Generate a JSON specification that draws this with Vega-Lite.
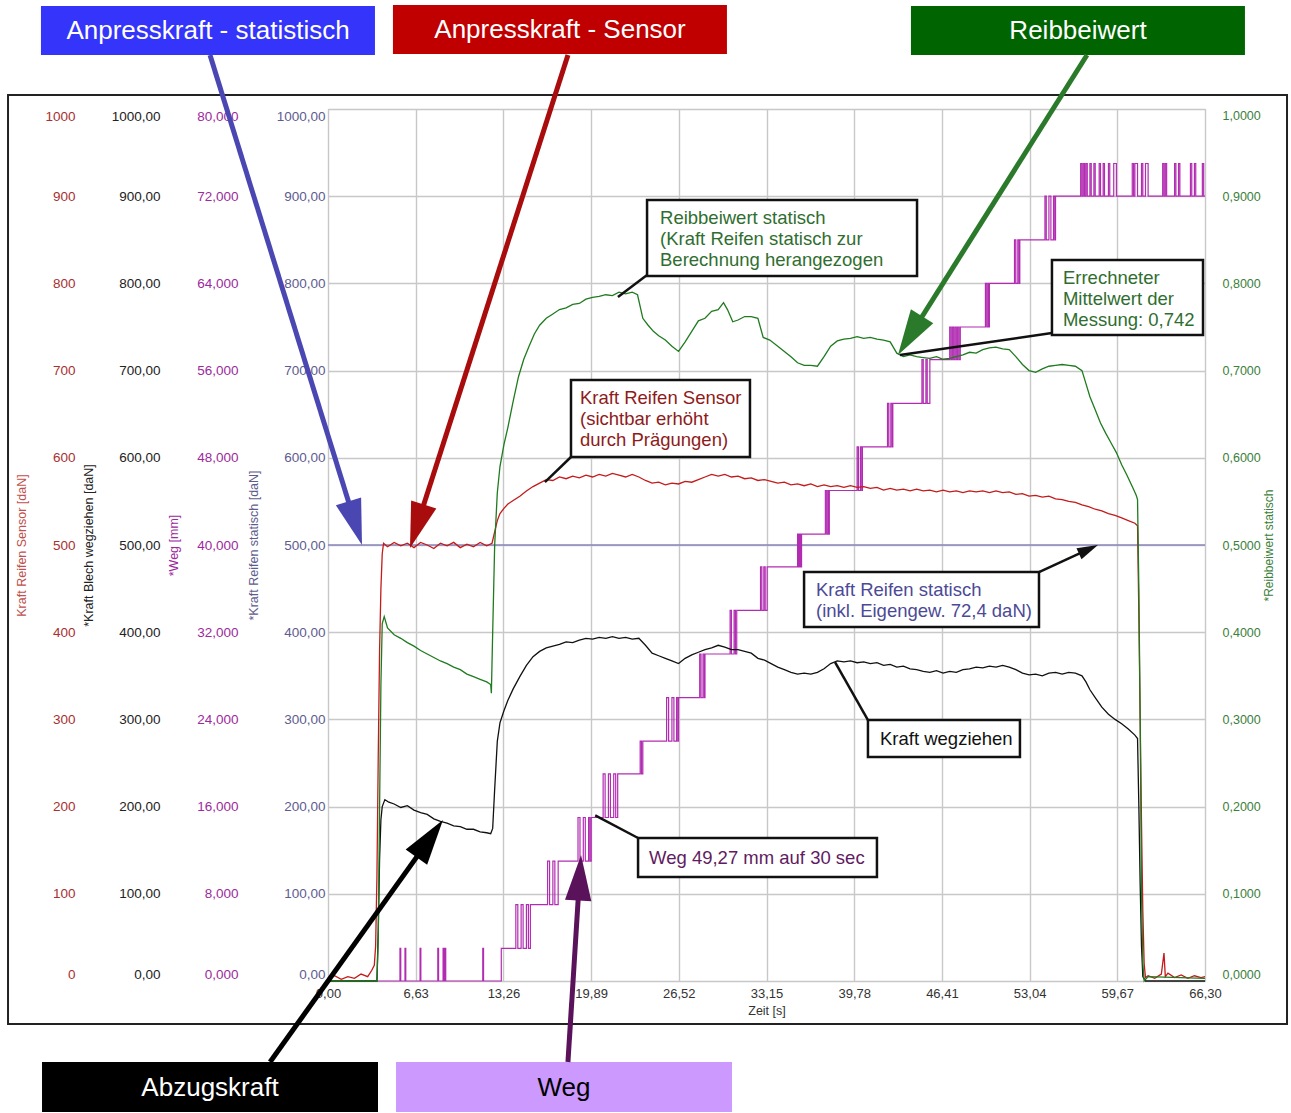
{
"$schema":"https://vega.github.io/schema/vega-lite/v6.json",
"width":877,"height":872,"autosize":"none",
"padding":{"left":328,"top":109,"right":86,"bottom":132},
"background":"#ffffff",
"config":{"font":"Liberation Sans","view":{"stroke":"#b8b8b8","strokeWidth":1},
 "axis":{"domain":false,"ticks":false,"labelFont":"Liberation Sans","titleFont":"Liberation Sans","titleFontWeight":"normal","gridColor":"#c8c8c8","gridWidth":1.4,"labelOverlap":false}},
"datasets":{
"frame":[{"t0":-24.19,"t1":72.5,"v0":1016.1,"v1":-49.3}],
"statisch":[{"t":0,"v":500},{"t":66.3,"v":500}],
"sensor":[{"t":0,"v":3},{"t":0.5,"v":6},{"t":1,"v":2},{"t":1.5,"v":5},{"t":2,"v":3},{"t":2.5,"v":8},{"t":3,"v":5},{"t":3.3,"v":12},{"t":3.5,"v":18},{"t":3.6,"v":40},{"t":3.7,"v":120},{"t":3.8,"v":260},{"t":3.9,"v":380},{"t":4,"v":450},{"t":4.1,"v":490},{"t":4.2,"v":502},{"t":4.5,"v":498},{"t":5,"v":503},{"t":5.5,"v":499},{"t":6,"v":502},{"t":6.5,"v":497},{"t":7,"v":503},{"t":7.5,"v":500},{"t":8,"v":496},{"t":8.5,"v":502},{"t":9,"v":499},{"t":9.5,"v":503},{"t":10,"v":497},{"t":10.5,"v":501},{"t":11,"v":498},{"t":11.5,"v":503},{"t":12,"v":499},{"t":12.4,"v":502},{"t":12.6,"v":515},{"t":12.8,"v":528},{"t":13,"v":536},{"t":13.3,"v":542},{"t":13.6,"v":547},{"t":14,"v":551},{"t":14.5,"v":556},{"t":15,"v":562},{"t":15.5,"v":567},{"t":16,"v":571},{"t":16.5,"v":575},{"t":17,"v":574},{"t":17.5,"v":578},{"t":18,"v":576},{"t":18.5,"v":579},{"t":19,"v":577},{"t":19.5,"v":580},{"t":20,"v":578},{"t":20.5,"v":581},{"t":21,"v":579},{"t":21.5,"v":582},{"t":22,"v":580},{"t":22.5,"v":578},{"t":23,"v":581},{"t":23.5,"v":578},{"t":24,"v":574},{"t":24.5,"v":571},{"t":25,"v":572},{"t":25.5,"v":569},{"t":26,"v":571},{"t":26.5,"v":570},{"t":27,"v":573},{"t":27.5,"v":572},{"t":28,"v":575},{"t":28.5,"v":578},{"t":29,"v":581},{"t":29.5,"v":579},{"t":30,"v":581},{"t":30.5,"v":578},{"t":31,"v":579},{"t":31.5,"v":576},{"t":32,"v":577},{"t":32.5,"v":574},{"t":33,"v":575},{"t":33.5,"v":573},{"t":34,"v":571},{"t":34.5,"v":572},{"t":35,"v":569},{"t":35.5,"v":570},{"t":36,"v":568},{"t":36.5,"v":570},{"t":37,"v":567},{"t":37.5,"v":569},{"t":38,"v":567},{"t":38.5,"v":568},{"t":39,"v":566},{"t":39.5,"v":568},{"t":40,"v":566},{"t":40.5,"v":567},{"t":41,"v":565},{"t":41.5,"v":566},{"t":42,"v":563},{"t":42.5,"v":565},{"t":43,"v":563},{"t":43.5,"v":564},{"t":44,"v":562},{"t":44.5,"v":564},{"t":45,"v":562},{"t":45.5,"v":563},{"t":46,"v":561},{"t":46.5,"v":563},{"t":47,"v":561},{"t":47.5,"v":562},{"t":48,"v":560},{"t":48.5,"v":562},{"t":49,"v":561},{"t":49.5,"v":562},{"t":50,"v":560},{"t":50.5,"v":562},{"t":51,"v":560},{"t":51.5,"v":561},{"t":52,"v":558},{"t":52.5,"v":559},{"t":53,"v":556},{"t":53.5,"v":557},{"t":54,"v":555},{"t":54.5,"v":556},{"t":55,"v":553},{"t":55.5,"v":552},{"t":56,"v":550},{"t":56.5,"v":549},{"t":57,"v":546},{"t":57.5,"v":544},{"t":58,"v":541},{"t":58.5,"v":539},{"t":59,"v":536},{"t":59.5,"v":534},{"t":60,"v":531},{"t":60.5,"v":528},{"t":61,"v":525},{"t":61.2,"v":522},{"t":61.3,"v":420},{"t":61.4,"v":300},{"t":61.5,"v":180},{"t":61.6,"v":80},{"t":61.7,"v":20},{"t":61.8,"v":4},{"t":62,"v":6},{"t":62.5,"v":3},{"t":63,"v":8},{"t":63.2,"v":32},{"t":63.3,"v":5},{"t":63.5,"v":9},{"t":64,"v":4},{"t":64.5,"v":7},{"t":65,"v":3},{"t":65.5,"v":6},{"t":66,"v":4},{"t":66.3,"v":5}],
"abzug":[{"t":0,"v":0},{"t":3.7,"v":0},{"t":3.8,"v":60},{"t":3.9,"v":140},{"t":4,"v":185},{"t":4.1,"v":200},{"t":4.3,"v":208},{"t":4.6,"v":205},{"t":5,"v":203},{"t":5.5,"v":199},{"t":6,"v":201},{"t":6.5,"v":196},{"t":7,"v":193},{"t":7.5,"v":191},{"t":8,"v":186},{"t":8.5,"v":183},{"t":9,"v":181},{"t":9.5,"v":178},{"t":10,"v":177},{"t":10.5,"v":174},{"t":11,"v":174},{"t":11.5,"v":171},{"t":12,"v":170},{"t":12.3,"v":169},{"t":12.45,"v":175},{"t":12.6,"v":220},{"t":12.8,"v":275},{"t":13,"v":296},{"t":13.3,"v":310},{"t":13.6,"v":322},{"t":14,"v":335},{"t":14.5,"v":349},{"t":15,"v":362},{"t":15.5,"v":372},{"t":16,"v":378},{"t":16.5,"v":382},{"t":17,"v":384},{"t":17.5,"v":386},{"t":18,"v":389},{"t":18.5,"v":388},{"t":19,"v":391},{"t":19.5,"v":393},{"t":20,"v":392},{"t":20.5,"v":394},{"t":21,"v":393},{"t":21.5,"v":395},{"t":22,"v":393},{"t":22.5,"v":394},{"t":23,"v":392},{"t":23.5,"v":393},{"t":24,"v":385},{"t":24.5,"v":376},{"t":25,"v":373},{"t":25.5,"v":370},{"t":26,"v":367},{"t":26.5,"v":364},{"t":27,"v":370},{"t":27.5,"v":374},{"t":28,"v":377},{"t":28.5,"v":380},{"t":29,"v":382},{"t":29.5,"v":385},{"t":30,"v":383},{"t":30.5,"v":380},{"t":31,"v":380},{"t":31.5,"v":378},{"t":32,"v":376},{"t":32.5,"v":370},{"t":33,"v":368},{"t":33.5,"v":364},{"t":34,"v":360},{"t":34.5,"v":357},{"t":35,"v":354},{"t":35.5,"v":352},{"t":36,"v":353},{"t":36.5,"v":352},{"t":37,"v":354},{"t":37.5,"v":358},{"t":38,"v":364},{"t":38.5,"v":367},{"t":39,"v":366},{"t":39.5,"v":367},{"t":40,"v":365},{"t":40.5,"v":366},{"t":41,"v":364},{"t":41.5,"v":365},{"t":42,"v":362},{"t":42.5,"v":363},{"t":43,"v":360},{"t":43.5,"v":361},{"t":44,"v":358},{"t":44.5,"v":357},{"t":45,"v":355},{"t":45.5,"v":354},{"t":46,"v":356},{"t":46.5,"v":353},{"t":47,"v":355},{"t":47.5,"v":354},{"t":48,"v":357},{"t":48.5,"v":358},{"t":49,"v":360},{"t":49.5,"v":359},{"t":50,"v":361},{"t":50.5,"v":360},{"t":51,"v":362},{"t":51.5,"v":360},{"t":52,"v":357},{"t":52.5,"v":353},{"t":53,"v":351},{"t":53.5,"v":352},{"t":54,"v":350},{"t":54.5,"v":353},{"t":55,"v":354},{"t":55.5,"v":352},{"t":56,"v":354},{"t":56.5,"v":353},{"t":57,"v":350},{"t":57.3,"v":343},{"t":57.6,"v":334},{"t":58,"v":325},{"t":58.5,"v":314},{"t":59,"v":306},{"t":59.5,"v":300},{"t":60,"v":295},{"t":60.5,"v":289},{"t":61,"v":282},{"t":61.2,"v":278},{"t":61.3,"v":200},{"t":61.4,"v":110},{"t":61.5,"v":40},{"t":61.6,"v":5},{"t":61.8,"v":0},{"t":66.3,"v":0}],
"reib":[{"t":0,"v":0},{"t":3.7,"v":0},{"t":3.8,"v":0.05},{"t":3.9,"v":0.2},{"t":4,"v":0.34},{"t":4.1,"v":0.41},{"t":4.25,"v":0.418},{"t":4.5,"v":0.405},{"t":5,"v":0.397},{"t":5.5,"v":0.393},{"t":6,"v":0.388},{"t":6.5,"v":0.384},{"t":7,"v":0.379},{"t":7.5,"v":0.375},{"t":8,"v":0.371},{"t":8.5,"v":0.367},{"t":9,"v":0.364},{"t":9.5,"v":0.36},{"t":10,"v":0.357},{"t":10.5,"v":0.352},{"t":11,"v":0.349},{"t":11.5,"v":0.346},{"t":12,"v":0.343},{"t":12.3,"v":0.34},{"t":12.35,"v":0.33},{"t":12.45,"v":0.4},{"t":12.6,"v":0.5},{"t":12.8,"v":0.56},{"t":13,"v":0.59},{"t":13.3,"v":0.615},{"t":13.6,"v":0.635},{"t":14,"v":0.665},{"t":14.4,"v":0.693},{"t":14.8,"v":0.713},{"t":15.2,"v":0.728},{"t":15.6,"v":0.742},{"t":16,"v":0.752},{"t":16.5,"v":0.76},{"t":17,"v":0.765},{"t":17.5,"v":0.77},{"t":18,"v":0.772},{"t":18.5,"v":0.776},{"t":19,"v":0.777},{"t":19.5,"v":0.782},{"t":20,"v":0.784},{"t":20.5,"v":0.785},{"t":21,"v":0.787},{"t":21.5,"v":0.786},{"t":22,"v":0.79},{"t":22.5,"v":0.788},{"t":23,"v":0.79},{"t":23.4,"v":0.787},{"t":23.8,"v":0.76},{"t":24.2,"v":0.752},{"t":24.6,"v":0.745},{"t":25,"v":0.74},{"t":25.5,"v":0.735},{"t":26,"v":0.728},{"t":26.5,"v":0.722},{"t":27,"v":0.733},{"t":27.5,"v":0.745},{"t":28,"v":0.757},{"t":28.5,"v":0.76},{"t":29,"v":0.768},{"t":29.5,"v":0.77},{"t":29.9,"v":0.778},{"t":30.2,"v":0.77},{"t":30.6,"v":0.756},{"t":31,"v":0.758},{"t":31.5,"v":0.762},{"t":32,"v":0.762},{"t":32.5,"v":0.76},{"t":32.9,"v":0.738},{"t":33.4,"v":0.735},{"t":34,"v":0.728},{"t":34.5,"v":0.722},{"t":35,"v":0.716},{"t":35.5,"v":0.709},{"t":36,"v":0.706},{"t":36.5,"v":0.706},{"t":37,"v":0.705},{"t":37.5,"v":0.716},{"t":38,"v":0.728},{"t":38.5,"v":0.734},{"t":39,"v":0.736},{"t":39.5,"v":0.737},{"t":40,"v":0.739},{"t":40.5,"v":0.737},{"t":41,"v":0.738},{"t":41.5,"v":0.736},{"t":42,"v":0.735},{"t":42.5,"v":0.733},{"t":43,"v":0.72},{"t":43.5,"v":0.716},{"t":44,"v":0.718},{"t":44.5,"v":0.716},{"t":45,"v":0.715},{"t":45.5,"v":0.714},{"t":46,"v":0.716},{"t":46.5,"v":0.713},{"t":47,"v":0.714},{"t":47.5,"v":0.716},{"t":48,"v":0.718},{"t":48.5,"v":0.721},{"t":49,"v":0.72},{"t":49.5,"v":0.724},{"t":50,"v":0.726},{"t":50.5,"v":0.727},{"t":51,"v":0.725},{"t":51.5,"v":0.724},{"t":52,"v":0.716},{"t":52.5,"v":0.707},{"t":53,"v":0.7},{"t":53.5,"v":0.698},{"t":54,"v":0.702},{"t":54.5,"v":0.705},{"t":55,"v":0.706},{"t":55.5,"v":0.707},{"t":56,"v":0.706},{"t":56.5,"v":0.705},{"t":57,"v":0.7},{"t":57.3,"v":0.685},{"t":57.6,"v":0.67},{"t":58,"v":0.655},{"t":58.4,"v":0.64},{"t":58.8,"v":0.628},{"t":59.2,"v":0.617},{"t":59.6,"v":0.606},{"t":60,"v":0.592},{"t":60.4,"v":0.58},{"t":60.8,"v":0.567},{"t":61.1,"v":0.557},{"t":61.2,"v":0.552},{"t":61.3,"v":0.45},{"t":61.4,"v":0.3},{"t":61.5,"v":0.1},{"t":61.6,"v":0.02},{"t":61.7,"v":0},{"t":62,"v":0.005},{"t":66.3,"v":0.003}],
"weg":[{"t":0,"v":0},{"t":5.44,"v":3},{"t":5.5,"v":0},{"t":5.82,"v":3},{"t":5.88,"v":0},{"t":6.96,"v":3},{"t":7.02,"v":0},{"t":8.3,"v":3},{"t":8.36,"v":0},{"t":8.7,"v":3},{"t":8.78,"v":0},{"t":8.85,"v":3},{"t":8.9,"v":0},{"t":11.7,"v":3},{"t":11.76,"v":0},{"t":13.1,"v":3},{"t":14.2,"v":7},{"t":14.35,"v":3},{"t":14.6,"v":7},{"t":14.75,"v":3},{"t":15,"v":7},{"t":15.15,"v":3},{"t":15.3,"v":7},{"t":16.6,"v":11},{"t":16.75,"v":7},{"t":17,"v":11},{"t":17.15,"v":7},{"t":17.4,"v":11},{"t":18.9,"v":15},{"t":19.05,"v":11},{"t":19.3,"v":15},{"t":19.45,"v":11},{"t":19.7,"v":15},{"t":19.8,"v":11},{"t":19.9,"v":15},{"t":20.8,"v":19},{"t":20.95,"v":15},{"t":21.2,"v":19},{"t":21.35,"v":15},{"t":21.6,"v":19},{"t":21.75,"v":15},{"t":21.9,"v":19},{"t":23.6,"v":22},{"t":23.7,"v":19},{"t":23.8,"v":22},{"t":25.6,"v":26},{"t":25.75,"v":22},{"t":26,"v":26},{"t":26.15,"v":22},{"t":26.35,"v":26},{"t":26.45,"v":22},{"t":26.5,"v":26},{"t":28.1,"v":30},{"t":28.2,"v":26},{"t":28.35,"v":30},{"t":28.45,"v":26},{"t":28.5,"v":30},{"t":30.4,"v":34},{"t":30.5,"v":30},{"t":30.7,"v":34},{"t":30.8,"v":30},{"t":30.9,"v":34},{"t":32.7,"v":38},{"t":32.8,"v":34},{"t":32.95,"v":38},{"t":33.05,"v":34},{"t":33.2,"v":38},{"t":35.5,"v":41},{"t":35.58,"v":38},{"t":35.65,"v":41},{"t":35.72,"v":38},{"t":35.8,"v":41},{"t":37.6,"v":45},{"t":37.7,"v":41},{"t":37.8,"v":45},{"t":37.85,"v":41},{"t":37.9,"v":45},{"t":40,"v":49},{"t":40.1,"v":45},{"t":40.25,"v":49},{"t":40.35,"v":45},{"t":40.4,"v":49},{"t":42.3,"v":53},{"t":42.4,"v":49},{"t":42.55,"v":53},{"t":42.65,"v":49},{"t":42.7,"v":53},{"t":44.9,"v":57},{"t":45,"v":53},{"t":45.2,"v":57},{"t":45.3,"v":53},{"t":45.5,"v":57},{"t":47,"v":60},{"t":47.1,"v":57},{"t":47.2,"v":60},{"t":47.3,"v":57},{"t":47.4,"v":60},{"t":47.5,"v":57},{"t":47.6,"v":60},{"t":47.7,"v":57},{"t":47.8,"v":60},{"t":49.7,"v":64},{"t":49.8,"v":60},{"t":49.9,"v":64},{"t":49.95,"v":60},{"t":50,"v":64},{"t":51.9,"v":68},{"t":52,"v":64},{"t":52.15,"v":68},{"t":52.25,"v":64},{"t":52.3,"v":68},{"t":54.2,"v":72},{"t":54.3,"v":68},{"t":54.5,"v":72},{"t":54.65,"v":68},{"t":54.85,"v":72},{"t":54.95,"v":68},{"t":55,"v":72},{"t":56.9,"v":75},{"t":57,"v":72},{"t":57.1,"v":75},{"t":57.2,"v":72},{"t":57.3,"v":75},{"t":57.4,"v":72},{"t":57.6,"v":75},{"t":57.7,"v":72},{"t":57.9,"v":75},{"t":58,"v":72},{"t":58.3,"v":75},{"t":58.4,"v":72},{"t":58.6,"v":75},{"t":58.7,"v":72},{"t":59,"v":75},{"t":59.1,"v":72},{"t":59.4,"v":75},{"t":59.6,"v":72},{"t":60.8,"v":75},{"t":60.9,"v":72},{"t":61,"v":75},{"t":61.2,"v":72},{"t":61.5,"v":75},{"t":61.6,"v":72},{"t":61.8,"v":75},{"t":62,"v":72},{"t":63.1,"v":75},{"t":63.2,"v":72},{"t":63.3,"v":75},{"t":63.4,"v":72},{"t":64,"v":75},{"t":64.1,"v":72},{"t":64.3,"v":75},{"t":64.4,"v":72},{"t":65.2,"v":75},{"t":65.3,"v":72},{"t":65.5,"v":75},{"t":65.6,"v":72},{"t":66.1,"v":75},{"t":66.2,"v":72},{"t":66.3,"v":72}],
"callouts":[{"key":"statisch","t0":-21.7,"t1":3.55,"v0":1118.1,"v1":1061.9,"tc":-9.07,"vc":1089.4,"label":"Anpresskraft - statistisch"},{"key":"sensor","t0":4.91,"t1":30.16,"v0":1119.3,"v1":1063.1,"tc":17.54,"vc":1090.6,"label":"Anpresskraft - Sensor"},{"key":"reib","t0":44.07,"t1":69.32,"v0":1118.1,"v1":1061.9,"tc":56.7,"vc":1089.4,"label":"Reibbeiwert"},{"key":"abzug","t0":-21.62,"t1":3.78,"v0":-92.9,"v1":-150.2,"tc":-8.92,"vc":-122.7,"label":"Abzugskraft"},{"key":"weg","t0":5.14,"t1":30.54,"v0":-92.9,"v1":-150.2,"tc":17.84,"vc":-122.7,"label":"Weg"}],
"arrows":[{"key":"statisch","t0":-8.92,"v0":1061.9,"t1":2.12,"v1":521.9,"tt":2.57,"vt":500,"angle":162.8},{"key":"sensor","t0":18.14,"v0":1061.9,"t1":6.65,"v1":518.5,"tt":6.2,"vt":496.6,"angle":197.5},{"key":"reib","t0":57.38,"v0":1061.9,"t1":43.89,"v1":737.4,"tt":43.09,"vt":717.9,"angle":211.9},{"key":"abzug","t0":-4.38,"v0":-92.9,"t1":7.82,"v1":165.9,"tt":8.69,"vt":184.6,"angle":35.6},{"key":"weg","t0":18.14,"v0":-92.9,"t1":19.03,"v1":121.6,"tt":19.13,"vt":144.5,"angle":3.6}],
"notes":[{"key":"reib","t0":24.12,"t1":44.53,"v0":895.6,"v1":808.5,"tx":25.1,"vy":875.0,"label":"Reibbeiwert statisch\n(Kraft Reifen statisch zur\nBerechnung herangezogen"},{"key":"sensor","t0":18.37,"t1":31.9,"v0":689.2,"v1":600.9,"tx":19.05,"vy":668.6,"label":"Kraft Reifen Sensor\n(sichtbar erhöht\ndurch Prägungen)"},{"key":"reib","t0":54.73,"t1":66.15,"v0":826.8,"v1":740.8,"tx":55.56,"vy":806.2,"label":"Errechneter\nMittelwert der\nMessung: 0,742"},{"key":"statisch","t0":35.99,"t1":53.75,"v0":469,"v1":406,"tx":36.89,"vy":448.4,"label":"Kraft Reifen statisch\n(inkl. Eigengew. 72,4 daN)"},{"key":"abzug","t0":40.82,"t1":52.31,"v0":299.3,"v1":256.9,"tx":41.73,"vy":277.5,"label":"Kraft wegziehen"},{"key":"weg","t0":23.44,"t1":41.5,"v0":164,"v1":119.3,"tx":24.27,"vy":141.1,"label":"Weg 49,27 mm auf 30 sec"}],
"leaders":[{"t0":24.12,"v0":809.6,"t1":21.92,"v1":784.4},{"t0":18.37,"v0":600.9,"t1":16.4,"v1":572.2},{"t0":54.73,"v0":743.1,"t1":43.24,"v1":717.9},{"t0":40.82,"v0":299.3,"t1":38.33,"v1":365.8},{"t0":23.44,"v0":164,"t1":20.2,"v1":190},{"t0":53.75,"v0":469,"t1":57.52,"v1":495.2}],
"pointer":[{"tt":58.21,"vt":500,"angle":65.4}]
},
"resolve":{"scale":{"y":"independent","color":"independent","fill":"independent","stroke":"independent"}},
"layer":[
{"data":{"name":"frame"},"mark":{"type":"rect","filled":false,"stroke":"#222222","strokeWidth":2},
 "encoding":{"x":{"field":"t0","type":"quantitative","title":"Zeit [s]","scale":{"domain":[0,66.3],"nice":false,"zero":false}},"x2":{"field":"t1"},
  "y":{"field":"v0","type":"quantitative","scale":{"domain":[0,1000],"nice":false,"zero":false},"axis":null},"y2":{"field":"v1"}}},
{"data":{"name":"statisch"},"mark":{"type":"line","color":"#8a86bd","strokeWidth":1.6},
 "encoding":{"x":{"field":"t","type":"quantitative","title":"Zeit [s]","scale":{"domain":[0,66.3],"nice":false,"zero":false},
   "axis":{"values":[0,6.63,13.26,19.89,26.52,33.15,39.78,46.41,53.04,59.67,66.3],"labelExpr":"replace(format(datum.value, '.2f'), '.', ',')","grid":true,"labelFlush":false,"labelPadding":6,"labelFontSize":13,"labelColor":"#333333","titleFontSize":12.5,"titleColor":"#333333","titlePadding":4}},
  "y":{"field":"v","type":"quantitative","scale":{"domain":[0,1000],"nice":false,"zero":false},
   "axis":{"orient":"left","offset":0,"values":[0,100,200,300,400,500,600,700,800,900,1000],"labelExpr":"replace(format(datum.value, '.2f'), '.', ',')","grid":true,"labelFlush":true,"labelPadding":3,"labelFontSize":13.5,"labelColor":"#5e5c8e","title":"*Kraft Reifen statisch [daN]","titleColor":"#5e5c8e","titleFontSize":12.5,"titlePadding":16}}}},
{"data":{"name":"weg"},"mark":{"type":"line","color":"#b22cb2","strokeWidth":1.2,"interpolate":"step-after"},
 "encoding":{"x":{"field":"t","type":"quantitative","title":"Zeit [s]","scale":{"domain":[0,66.3],"nice":false,"zero":false}},
  "y":{"field":"v","type":"quantitative","scale":{"domain":[0,80],"nice":false,"zero":false},
   "axis":{"orient":"left","offset":87,"values":[0,8,16,24,32,40,48,56,64,72,80],"labelExpr":"replace(format(datum.value, '.3f'), '.', ',')","grid":false,"labelFlush":true,"labelPadding":3,"labelFontSize":13.5,"labelColor":"#9c2a9c","title":"*Weg [mm]","titleColor":"#9c2a9c","titleFontSize":12.5,"titlePadding":16}}}},
{"data":{"name":"abzug"},"mark":{"type":"line","color":"#111111","strokeWidth":1.3},
 "encoding":{"x":{"field":"t","type":"quantitative","title":"Zeit [s]","scale":{"domain":[0,66.3],"nice":false,"zero":false}},
  "y":{"field":"v","type":"quantitative","scale":{"domain":[0,1000],"nice":false,"zero":false},
   "axis":{"orient":"left","offset":165,"values":[0,100,200,300,400,500,600,700,800,900,1000],"labelExpr":"replace(format(datum.value, '.2f'), '.', ',')","grid":false,"labelFlush":true,"labelPadding":3,"labelFontSize":13.5,"labelColor":"#222222","title":"*Kraft Blech wegziehen [daN]","titleColor":"#222222","titleFontSize":12.5,"titlePadding":16}}}},
{"data":{"name":"sensor"},"mark":{"type":"line","color":"#c41a1a","strokeWidth":1.3},
 "encoding":{"x":{"field":"t","type":"quantitative","title":"Zeit [s]","scale":{"domain":[0,66.3],"nice":false,"zero":false}},
  "y":{"field":"v","type":"quantitative","scale":{"domain":[0,1000],"nice":false,"zero":false},
   "axis":{"orient":"left","offset":250,"values":[0,100,200,300,400,500,600,700,800,900,1000],"format":"d","grid":false,"labelFlush":true,"labelPadding":3,"labelFontSize":13.5,"labelColor":"#a83030","title":"Kraft Reifen Sensor [daN]","titleColor":"#c0504d","titleFontSize":12.5,"titlePadding":16}}}},
{"data":{"name":"reib"},"mark":{"type":"line","color":"#1f7b1f","strokeWidth":1.3},
 "encoding":{"x":{"field":"t","type":"quantitative","title":"Zeit [s]","scale":{"domain":[0,66.3],"nice":false,"zero":false}},
  "y":{"field":"v","type":"quantitative","scale":{"domain":[0,1],"nice":false,"zero":false},
   "axis":{"orient":"right","offset":0,"values":[0,0.1,0.2,0.3,0.4,0.5,0.6,0.7,0.8,0.9,1],"labelExpr":"replace(format(datum.value, '.4f'), '.', ',')","grid":false,"labelFlush":true,"labelPadding":17,"labelFontSize":12.5,"labelColor":"#3a803a","title":"*Reibbeiwert statisch","titleAngle":270,"titleBaseline":"top","titleColor":"#3a803a","titleFontSize":12,"titlePadding":3}}}},
{"data":{"name":"notes"},"mark":{"type":"rect","fill":"#ffffff","stroke":"#111111","strokeWidth":2.5},
 "encoding":{"x":{"field":"t0","type":"quantitative","title":"Zeit [s]","scale":{"domain":[0,66.3],"nice":false,"zero":false}},"x2":{"field":"t1"},
  "y":{"field":"v0","type":"quantitative","scale":{"domain":[0,1000],"nice":false,"zero":false},"axis":null},"y2":{"field":"v1"}}},
{"data":{"name":"notes"},"mark":{"type":"text","align":"left","baseline":"middle","fontSize":18.5,"lineHeight":21,"lineBreak":"\n","font":"Liberation Sans"},
 "encoding":{"x":{"field":"tx","type":"quantitative","title":"Zeit [s]","scale":{"domain":[0,66.3],"nice":false,"zero":false}},
  "y":{"field":"vy","type":"quantitative","scale":{"domain":[0,1000],"nice":false,"zero":false},"axis":null},
  "text":{"field":"label"},
  "color":{"field":"key","type":"nominal","legend":null,"scale":{"domain":["reib","sensor","statisch","abzug","weg"],"range":["#2f6e2f","#8e1b1b","#4c4a96","#111111","#611b61"]}}}},
{"data":{"name":"leaders"},"mark":{"type":"rule","color":"#111111","strokeWidth":2.5},
 "encoding":{"x":{"field":"t0","type":"quantitative","title":"Zeit [s]","scale":{"domain":[0,66.3],"nice":false,"zero":false}},"x2":{"field":"t1"},
  "y":{"field":"v0","type":"quantitative","scale":{"domain":[0,1000],"nice":false,"zero":false},"axis":null},"y2":{"field":"v1"}}},
{"data":{"name":"pointer"},"mark":{"type":"point","shape":"M0,0L0.55,1.9L-0.55,1.9Z","size":484,"filled":true,"opacity":1,"color":"#111111"},
 "encoding":{"x":{"field":"tt","type":"quantitative","title":"Zeit [s]","scale":{"domain":[0,66.3],"nice":false,"zero":false}},
  "y":{"field":"vt","type":"quantitative","scale":{"domain":[0,1000],"nice":false,"zero":false},"axis":null},
  "angle":{"field":"angle","type":"quantitative","scale":null}}},
{"data":{"name":"callouts"},"mark":{"type":"rect"},
 "encoding":{"x":{"field":"t0","type":"quantitative","title":"Zeit [s]","scale":{"domain":[0,66.3],"nice":false,"zero":false}},"x2":{"field":"t1"},
  "y":{"field":"v0","type":"quantitative","scale":{"domain":[0,1000],"nice":false,"zero":false},"axis":null},"y2":{"field":"v1"},
  "fill":{"field":"key","type":"nominal","legend":null,"scale":{"domain":["statisch","sensor","reib","abzug","weg"],"range":["#3434fb","#c00000","#006400","#000000","#cc99ff"]}}}},
{"data":{"name":"callouts"},"mark":{"type":"text","align":"center","baseline":"middle","fontSize":26,"font":"Liberation Sans"},
 "encoding":{"x":{"field":"tc","type":"quantitative","title":"Zeit [s]","scale":{"domain":[0,66.3],"nice":false,"zero":false}},
  "y":{"field":"vc","type":"quantitative","scale":{"domain":[0,1000],"nice":false,"zero":false},"axis":null},
  "text":{"field":"label"},
  "color":{"field":"key","type":"nominal","legend":null,"scale":{"domain":["statisch","sensor","reib","abzug","weg"],"range":["#ffffff","#ffffff","#ffffff","#ffffff","#000000"]}}}},
{"data":{"name":"arrows"},"mark":{"type":"rule","strokeWidth":5},
 "encoding":{"x":{"field":"t0","type":"quantitative","title":"Zeit [s]","scale":{"domain":[0,66.3],"nice":false,"zero":false}},"x2":{"field":"t1"},
  "y":{"field":"v0","type":"quantitative","scale":{"domain":[0,1000],"nice":false,"zero":false},"axis":null},"y2":{"field":"v1"},
  "stroke":{"field":"key","type":"nominal","legend":null,"scale":{"domain":["statisch","sensor","reib","abzug","weg"],"range":["#4a47b3","#a80c0c","#2b7a2b","#000000","#5a125a"]}}}},
{"data":{"name":"arrows"},"mark":{"type":"point","shape":"M0,0L0.55,1.9L-0.55,1.9Z","size":2304,"filled":true,"opacity":1},
 "encoding":{"x":{"field":"tt","type":"quantitative","title":"Zeit [s]","scale":{"domain":[0,66.3],"nice":false,"zero":false}},
  "y":{"field":"vt","type":"quantitative","scale":{"domain":[0,1000],"nice":false,"zero":false},"axis":null},
  "angle":{"field":"angle","type":"quantitative","scale":null},
  "color":{"field":"key","type":"nominal","legend":null,"scale":{"domain":["statisch","sensor","reib","abzug","weg"],"range":["#4a47b3","#a80c0c","#2b7a2b","#000000","#5a125a"]}}}}
]
}
